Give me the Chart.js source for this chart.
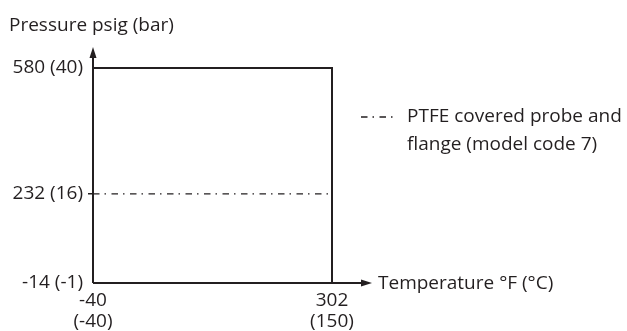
<!DOCTYPE html>
<html>
<head>
<meta charset="utf-8">
<style>
  html, body { margin: 0; padding: 0; background: #ffffff; }
  #wrap { position: relative; width: 627px; height: 331px; }
</style>
<script src="https://cdn.jsdelivr.net/npm/chart.js@4/dist/chart.umd.min.js"></script>
</head>
<body>
<div id="wrap"><canvas id="c" width="627" height="331"></canvas></div>
<script>
// ---- data ----
const tempF = [-40, 302];
const tempC = [-40, 150];
const pressPsig = [-14, 232, 580];
const pressBar = [-1, 16, 40];
const envelopeX = [-40, 302, 302];
const envelopeY = [580, 580, -14];
const ptfeX = [-40, 302];
const ptfeY = [232, 232];
const yTitle = 'Pressure psig (bar)';
const xTitle = 'Temperature °F (°C)';
const legendLines = ['PTFE covered probe and', 'flange (model code 7)'];

const INK = '#231f20';
const FONT = '"Open Sans"';
const FS = 19;
const DASHDOT = [6.5, 5, 1.5, 5.5];

const extras = {
  id: 'extras',
  afterDraw(chart) {
    const { ctx, chartArea: a } = chart;
    ctx.save();
    ctx.strokeStyle = INK;
    ctx.fillStyle = INK;
    ctx.lineWidth = 2;
    // y axis with arrow
    ctx.beginPath();
    ctx.moveTo(a.left, a.bottom);
    ctx.lineTo(a.left, a.top - 14);
    ctx.stroke();
    ctx.beginPath();
    ctx.moveTo(a.left, a.top - 21);
    ctx.lineTo(a.left - 3.5, a.top - 10);
    ctx.lineTo(a.left + 3.5, a.top - 10);
    ctx.closePath();
    ctx.fill();
    // x axis with arrow
    ctx.beginPath();
    ctx.moveTo(a.left, a.bottom);
    ctx.lineTo(a.right + 30, a.bottom);
    ctx.stroke();
    ctx.beginPath();
    ctx.moveTo(a.right + 40, a.bottom);
    ctx.lineTo(a.right + 29, a.bottom - 3.5);
    ctx.lineTo(a.right + 29, a.bottom + 3.5);
    ctx.closePath();
    ctx.fill();
    // titles
    ctx.font = FS + 'px ' + FONT;
    ctx.textAlign = 'left';
    ctx.textBaseline = 'alphabetic';
    ctx.fillText(yTitle, 9, 31);
    ctx.textBaseline = 'middle';
    ctx.fillText(xTitle, a.right + 46, a.bottom + 1);
    // legend
    const lx = a.right + 29, ly = a.top + 49;
    ctx.lineWidth = 1.3;
    ctx.setLineDash(DASHDOT);
    ctx.beginPath();
    ctx.moveTo(lx, ly);
    ctx.lineTo(lx + 35, ly);
    ctx.stroke();
    ctx.setLineDash([]);
    legendLines.forEach((t, i) => ctx.fillText(t, lx + 46, ly + i * 28));
    ctx.restore();
  }
};

new Chart(document.getElementById('c'), {
  type: 'scatter',
  data: {
    datasets: [
      {
        label: 'Envelope',
        data: envelopeX.map((x, i) => ({ x, y: envelopeY[i] })),
        showLine: true,
        borderColor: INK,
        borderWidth: 2,
        pointRadius: 0,
        fill: false,
        clip: false
      },
      {
        label: legendLines.join(' '),
        data: ptfeX.map((x, i) => ({ x, y: ptfeY[i] })),
        showLine: true,
        borderColor: INK,
        borderWidth: 1.3,
        borderDash: DASHDOT,
        pointRadius: 0,
        fill: false,
        clip: false
      }
    ]
  },
  options: {
    responsive: false,
    animation: false,
    layout: { padding: { top: 68, right: 295, bottom: 0, left: 0 } },
    plugins: { legend: { display: false }, tooltip: { enabled: false }, title: { display: false } },
    scales: {
      x: {
        type: 'linear',
        min: tempF[0],
        max: tempF[tempF.length - 1],
        afterBuildTicks: s => { s.ticks = tempF.map(v => ({ value: v })); },
        afterFit: s => { s.height = 48; },
        ticks: {
          color: INK,
          font: { family: FONT, size: FS, lineHeight: 1.06 },
          padding: 8,
          maxRotation: 0,
          autoSkip: false,
          callback: v => { const i = tempF.indexOf(v); return [String(tempF[i]), '(' + tempC[i] + ')']; }
        },
        grid: { display: false, drawTicks: false },
        border: { display: false }
      },
      y: {
        type: 'linear',
        min: pressPsig[0],
        max: pressPsig[pressPsig.length - 1],
        afterBuildTicks: s => { s.ticks = pressPsig.map(v => ({ value: v })); },
        afterFit: s => { s.width = 93; },
        ticks: {
          color: INK,
          font: { family: FONT, size: FS },
          padding: 5,
          autoSkip: false,
          callback: v => { const i = pressPsig.indexOf(v); return pressPsig[i] + ' (' + pressBar[i] + ')'; }
        },
        grid: {
          drawOnChartArea: false,
          drawTicks: true,
          tickLength: 5,
          lineWidth: 1.5,
          color: c => (c.tick && c.tick.value === pressPsig[1]) ? INK : 'rgba(0,0,0,0)'
        },
        border: { display: false }
      }
    }
  },
  plugins: [extras]
});
</script>
</body>
</html>
